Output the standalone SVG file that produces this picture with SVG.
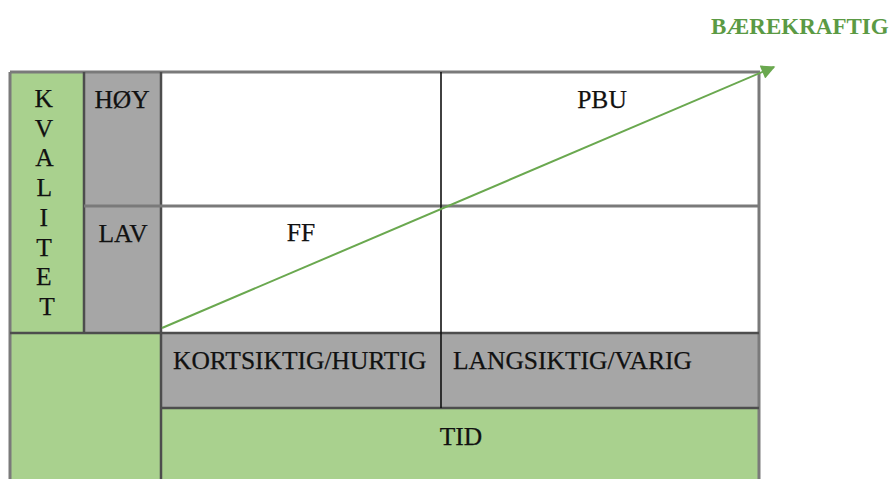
<svg xmlns="http://www.w3.org/2000/svg" width="894" height="479" viewBox="0 0 894 479">
  <defs>
    <style>
      .green { fill: #a9d18e; }
      .grey { fill: #a6a6a6; }
      .white { fill: #ffffff; }
      .edge { stroke: #4d4d4d; stroke-width: 2.5; fill: none; }
      .edge-light { stroke: #7a7a7a; stroke-width: 3; fill: none; }
      .div { stroke: #111111; stroke-width: 1.6; fill: none; }
      .t { font-family: "Liberation Serif", "Times New Roman", serif; font-size: 25.5px; fill: #111111; stroke: #111111; stroke-width: 0.25; }
      .mid { text-anchor: middle; }
      .trend { stroke: #6aa84f; stroke-width: 2; fill: none; }
      .label-green { font-family: "Liberation Serif", "Times New Roman", serif; font-size: 23px; font-weight: bold; fill: #5b9a44; }
    </style>
    <marker id="arrowhead" viewBox="0 0 10 10" refX="9" refY="5" markerWidth="8" markerHeight="7" markerUnits="strokeWidth" orient="auto">
      <path d="M0,0 L10,5 L0,10 Z" fill="#6aa84f"/>
    </marker>
  </defs>

  <rect width="894" height="479" fill="#ffffff"/>

  <!-- quality axis -->
  <g id="kvalitet">
    <rect class="green" x="10" y="72" width="74" height="261"/>
    <text class="t mid" x="47">
      <tspan x="47" y="107">K</tspan>
      <tspan x="47" y="136.7">V</tspan>
      <tspan x="47" y="166.4">A</tspan>
      <tspan x="47" y="196">L</tspan>
      <tspan x="47" y="225.8">I</tspan>
      <tspan x="47" y="255.5">T</tspan>
      <tspan x="47" y="285">E</tspan>
      <tspan x="47" y="314.7">T</tspan>
    </text>
  </g>

  <g id="hoy">
    <rect class="grey" x="84" y="72" width="77" height="134"/>
    <text class="t mid" x="122" y="108">HØY</text>
  </g>

  <g id="lav">
    <rect class="grey" x="84" y="206" width="77" height="127"/>
    <text class="t mid" x="123" y="242">LAV</text>
  </g>

  <!-- quadrants -->
  <g id="q-top-left"><rect class="white" x="161" y="72" width="280" height="134"/></g>
  <g id="q-top-right">
    <rect class="white" x="441" y="72" width="318" height="134"/>
    <text class="t mid" x="602" y="108">PBU</text>
  </g>
  <g id="q-bottom-left">
    <rect class="white" x="161" y="206" width="280" height="127"/>
    <text class="t mid" x="301" y="241">FF</text>
  </g>
  <g id="q-bottom-right"><rect class="white" x="441" y="206" width="318" height="127"/></g>

  <g id="corner">
    <rect class="green" x="10" y="333" width="151" height="146"/>
  </g>

  <!-- time axis -->
  <g id="kortsiktig">
    <rect class="grey" x="161" y="333" width="280" height="75"/>
    <text class="t" x="173" y="369">KORTSIKTIG/HURTIG</text>
  </g>
  <g id="langsiktig">
    <rect class="grey" x="441" y="333" width="318" height="75"/>
    <text class="t" x="453" y="369">LANGSIKTIG/VARIG</text>
  </g>
  <g id="tid">
    <rect class="green" x="161" y="408" width="598" height="71"/>
    <text class="t mid" x="461" y="445">TID</text>
  </g>

  <!-- grid lines -->
  <g id="grid">
    <line class="edge-light" x1="10" y1="72" x2="760" y2="72"/>
    <line class="edge-light" x1="10" y1="72" x2="10" y2="479"/>
    <line class="edge-light" x1="759" y1="72" x2="759" y2="479"/>
    <line class="edge" x1="84" y1="72" x2="84" y2="333"/>
    <line class="edge" x1="161" y1="72" x2="161" y2="479"/>
    <line class="edge-light" x1="84" y1="206" x2="759" y2="206"/>
    <line class="edge" x1="10" y1="333" x2="759" y2="333"/>
    <line class="edge" x1="161" y1="408" x2="759" y2="408"/>
    <line class="div" x1="441" y1="72" x2="441" y2="408"/>
  </g>

  <!-- sustainability trend -->
  <g id="connectors">
    <line class="trend" x1="162" y1="328" x2="774" y2="67" marker-end="url(#arrowhead)"/>
  </g>

  <g id="baerekraftig">
    <text class="label-green" x="711" y="34">BÆREKRAFTIG</text>
  </g>
</svg>
